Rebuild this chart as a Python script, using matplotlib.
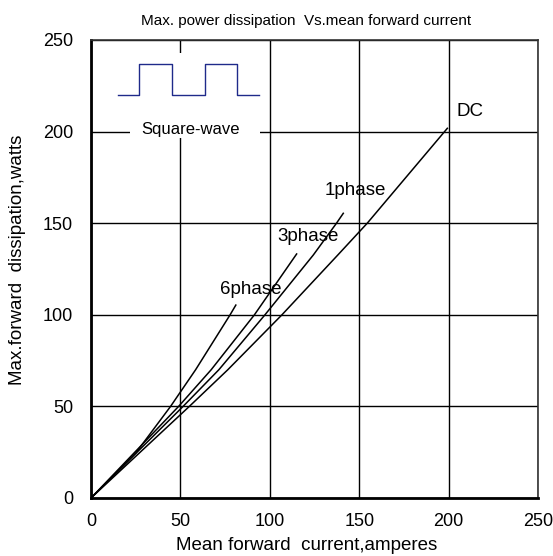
import matplotlib
matplotlib.use("Agg")
import matplotlib.pyplot as plt
from matplotlib.patches import Rectangle

plt.rcParams['font.family'] = ['Liberation Sans', 'DejaVu Sans']

# Mean forward current (A) and max forward dissipation (W)
dc_current = [0, 55.0, 76.5, 106.8, 138.0, 154.5, 199.3]
dc_power = [0, 50, 70, 100, 132.6, 150, 201.8]

ph1_current = [0, 51.5, 71.5, 97.3, 124.3, 137.3, 141.1]
ph1_power = [0, 50, 70, 100, 132.6, 150, 155.4]

ph3_current = [0, 49.0, 67.2, 91.4, 115.0]
ph3_power = [0, 50, 70, 100, 133.2]

ph6_current = [0, 25.0, 44.5, 58.5, 77.8, 81.0]
ph6_power = [0, 24.5, 50, 70, 100, 105.3]

series_labels = ["DC", "1phase", "3phase", "6phase"]
label_pos_x = [212, 148, 121.5, 89.5]
label_pos_y = [211, 168, 143, 114]

# square-wave icon (decoration)
wave_x = [15.3, 27.0, 27.0, 45.1, 45.1, 63.8, 63.8, 81.8, 81.8, 94.1]
wave_y = [220, 220, 236.7, 236.7, 220, 220, 236.7, 236.7, 220, 220]

x_ticks = [0, 50, 100, 150, 200, 250]
y_ticks = [0, 50, 100, 150, 200, 250]

fig = plt.figure(figsize=(5.53, 5.56), dpi=100)
ax = fig.add_axes([91/553, 1-498/556, (538-91)/553, (498-40)/556])

ax.set_xlim(0, 250)
ax.set_ylim(0, 250)
ax.set_xticks(x_ticks)
ax.set_yticks(y_ticks)
ax.grid(True, color='black', linewidth=1.0, zorder=1)
ax.set_axisbelow(True)
ax.tick_params(axis='x', length=0, labelsize=13, pad=11)
ax.tick_params(axis='y', length=0, labelsize=13, pad=13)

for s in ['left', 'bottom']:
    ax.spines[s].set_linewidth(2.0)
    ax.spines[s].set_color('black')
for s in ['top', 'right']:
    ax.spines[s].set_linewidth(1.2)
    ax.spines[s].set_color('#333333')

# white area behind the icon
ax.add_patch(Rectangle((21.8, 196.5), 72.7, 46.4, facecolor='white',
                       edgecolor='none', zorder=2))

for xs, ys in [(dc_current, dc_power), (ph1_current, ph1_power),
               (ph3_current, ph3_power), (ph6_current, ph6_power)]:
    ax.plot(xs, ys, color='black', linewidth=1.1, zorder=3)

for lab, lx, ly in zip(series_labels, label_pos_x, label_pos_y):
    ax.text(lx, ly, lab, fontsize=13.5, ha='center', va='center', zorder=4)

ax.plot(wave_x, wave_y, color='#1f2a8a', linewidth=1.0, zorder=4)
ax.text(55.8, 201.4, "Square-wave", fontsize=12, ha='center', va='center',
        zorder=4)

ax.set_xlabel("Mean forward  current,amperes", fontsize=13.5, va='center')
ax.xaxis.set_label_coords((307-91)/447, (498-545)/458)
ax.set_ylabel("Max.forward  dissipation,watts", fontsize=13.5, va='center')
ax.yaxis.set_label_coords((18-91)/447, (498-260)/458)
ax.set_title("Max. power dissipation  Vs.mean forward current", fontsize=11,
             x=(306-91)/447, pad=11)

fig.savefig("out.png", dpi=100)
